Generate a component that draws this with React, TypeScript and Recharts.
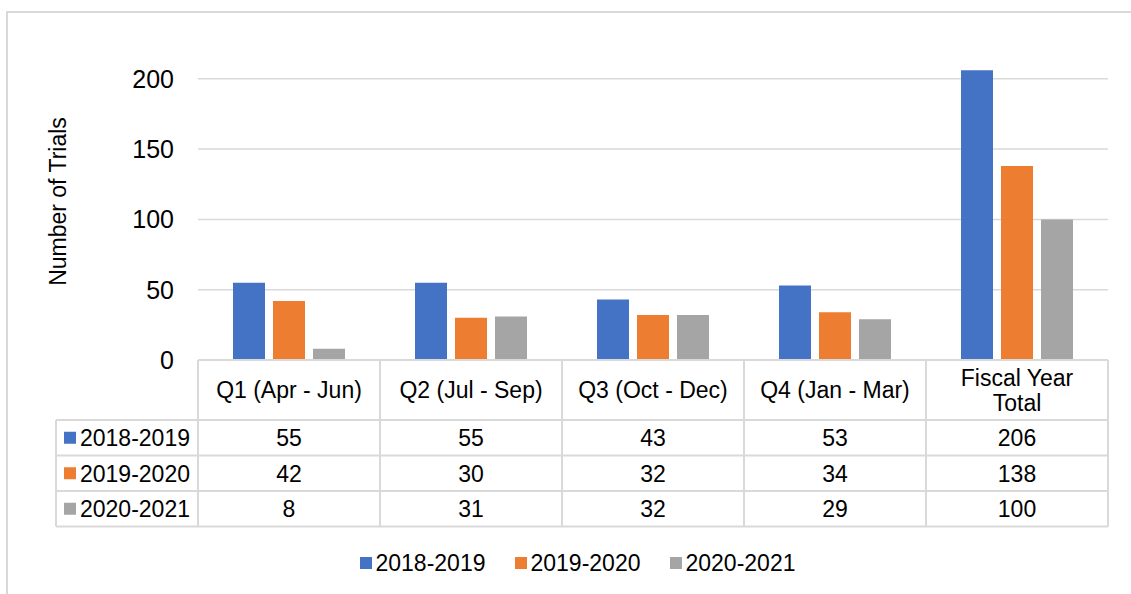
import React from 'react';
import { BarChart, Bar, XAxis, YAxis, CartesianGrid, Legend } from 'recharts';

// ---- data ----
const categories = ['Q1 (Apr - Jun)', 'Q2 (Jul - Sep)', 'Q3 (Oct - Dec)', 'Q4 (Jan - Mar)', 'Fiscal Year Total'];
const seriesNames = ['2018-2019', '2019-2020', '2020-2021'];
const values2018_2019 = [55, 55, 43, 53, 206];
const values2019_2020 = [42, 30, 32, 34, 138];
const values2020_2021 = [8, 31, 32, 29, 100];
const yTicks = [0, 50, 100, 150, 200];
const yDomain = [0, 250];
const seriesColors = ['#4472C4', '#ED7D31', '#A5A5A5'];
const axisTitle = 'Number of Trials';

const seriesValues = [values2018_2019, values2019_2020, values2020_2021];
const seriesKeys = ['s0', 's1', 's2'];
const data = categories.map((c, i) => ({
  category: c,
  s0: values2018_2019[i],
  s1: values2019_2020[i],
  s2: values2020_2021[i],
}));

// ---- layout ----
const W = 1131;
const H = 594;
const FONT = '"Liberation Sans", Arial, sans-serif';
const PLOT_LEFT = 198;
const PLOT_RIGHT = 1108;
const TABLE_LEFT = 56;
const HEADER_H = 60;
const ROW_H = 35.5;
const GRID = '#d9d9d9';
const TFS = 23;

function wrapText(s: string, maxChars: number): string[] {
  const words = s.split(' ');
  const lines: string[] = [];
  let cur = '';
  for (const w of words) {
    const next = cur ? cur + ' ' + w : w;
    if (next.length > maxChars && cur) {
      lines.push(cur);
      cur = w;
    } else {
      cur = next;
    }
  }
  if (cur) lines.push(cur);
  return lines;
}

function TableTick(props: any) {
  const { x, y, payload, index } = props;
  const band = (PLOT_RIGHT - PLOT_LEFT) / categories.length;
  const l = x - band / 2;
  const r = x + band / 2;
  const headerBottom = y + HEADER_H;
  const rowY = (k: number) => headerBottom + k * ROW_H;
  const bottom = rowY(3);
  const lines = wrapText(String(payload.value), 15);
  const hc = y + HEADER_H / 2;
  const base = TFS * 0.36;
  const lineGap = 25.5;
  const stroke = { stroke: GRID, strokeWidth: 2 };
  return (
    <g>
      <line x1={l} x2={l} y1={y} y2={bottom} {...stroke} />
      {index === categories.length - 1 && <line x1={r} x2={r} y1={y} y2={bottom} {...stroke} />}
      {[0, 1, 2, 3].map((k) => (
        <line key={k} x1={l} x2={r} y1={rowY(k)} y2={rowY(k)} {...stroke} />
      ))}
      {lines.map((t, i) => (
        <text
          key={'h' + i}
          x={x}
          y={hc + base + (i - (lines.length - 1) / 2) * lineGap}
          textAnchor="middle"
          fontSize={TFS}
          fontFamily={FONT}
          fill="#000"
        >
          {t}
        </text>
      ))}
      {seriesValues.map((vals, k) => (
        <text
          key={'v' + k}
          x={x}
          y={rowY(k) + ROW_H / 2 + base}
          textAnchor="middle"
          fontSize={TFS}
          fontFamily={FONT}
          fill="#000"
        >
          {vals[index]}
        </text>
      ))}
      {index === 0 && (
        <g>
          <line x1={TABLE_LEFT} x2={TABLE_LEFT} y1={rowY(0)} y2={bottom} {...stroke} />
          {[0, 1, 2, 3].map((k) => (
            <line key={'ll' + k} x1={TABLE_LEFT} x2={l} y1={rowY(k)} y2={rowY(k)} {...stroke} />
          ))}
          {seriesNames.map((n, k) => (
            <g key={'ln' + k}>
              <rect x={TABLE_LEFT + 8} y={rowY(k) + ROW_H / 2 - 6} width={12} height={12} fill={seriesColors[k]} />
              <text
                x={TABLE_LEFT + 24}
                y={rowY(k) + ROW_H / 2 + base}
                fontSize={TFS}
                fontFamily={FONT}
                fill="#000"
              >
                {n}
              </text>
            </g>
          ))}
        </g>
      )}
    </g>
  );
}

const AxisTitle = () => (
  <text
    transform="translate(65.5,201.5) rotate(-90)"
    x={0}
    y={0}
    textAnchor="middle"
    fontSize={TFS}
    fontFamily={FONT}
    fill="#000"
  >
    {axisTitle}
  </text>
);

const LegendContent = (props: any) => {
  const items = props.payload || [];
  return (
    <div
      style={{
        display: 'flex',
        justifyContent: 'center',
        alignItems: 'center',
        height: 26,
        fontFamily: FONT,
        fontSize: TFS,
        color: '#000',
      }}
    >
      {items.map((p: any, i: number) => (
        <div key={i} style={{ display: 'flex', alignItems: 'center', marginLeft: i ? 29 : 0 }}>
          <span style={{ width: 12, height: 12, background: p.color, marginRight: 4, display: 'inline-block' }} />
          <span style={{ lineHeight: '26px', whiteSpace: 'nowrap' }}>{p.value}</span>
        </div>
      ))}
    </div>
  );
};

export default function App() {
  return (
    <div
      style={{
        position: 'absolute',
        left: 0,
        top: 0,
        width: W,
        height: H,
        overflow: 'hidden',
        background: '#fff',
        fontFamily: FONT,
      }}
    >
      <div
        style={{
          position: 'absolute',
          left: 6,
          top: 11,
          width: 1300,
          height: 800,
          border: `2px solid ${GRID}`,
        }}
      />
      <div style={{ position: 'absolute', left: 0, top: 0 }}>
        <BarChart
          width={W}
          height={H}
          data={data}
          margin={{ top: 8.5, right: W - PLOT_RIGHT, bottom: 0, left: 0 }}
          barSize={32}
          barGap={8}
        >
          <CartesianGrid vertical={false} horizontalValues={yTicks} stroke={GRID} strokeWidth={1.5} />
          <XAxis
            dataKey="category"
            type="category"
            interval={0}
            height={H - 360}
            axisLine={{ stroke: GRID, strokeWidth: 2 }}
            tickLine={false}
            tickSize={0}
            tickMargin={0}
            tick={(p: any) => <TableTick {...p} />}
          />
          <YAxis
            width={PLOT_LEFT}
            domain={yDomain}
            ticks={yTicks}
            axisLine={false}
            tickLine={false}
            tickSize={0}
            tickMargin={24}
            tick={{ fontSize: 25, fill: '#000', fontFamily: FONT }}
            label={() => <AxisTitle />}
          />
          <Legend
            layout="horizontal"
            verticalAlign="middle"
            align="center"
            wrapperStyle={{ top: 550, left: 24, width: 1107, height: 26 }}
            content={LegendContent}
          />
          {seriesKeys.map((k, i) => (
            <Bar key={k} dataKey={k} name={seriesNames[i]} fill={seriesColors[i]} isAnimationActive={false} />
          ))}
        </BarChart>
      </div>
    </div>
  );
}
